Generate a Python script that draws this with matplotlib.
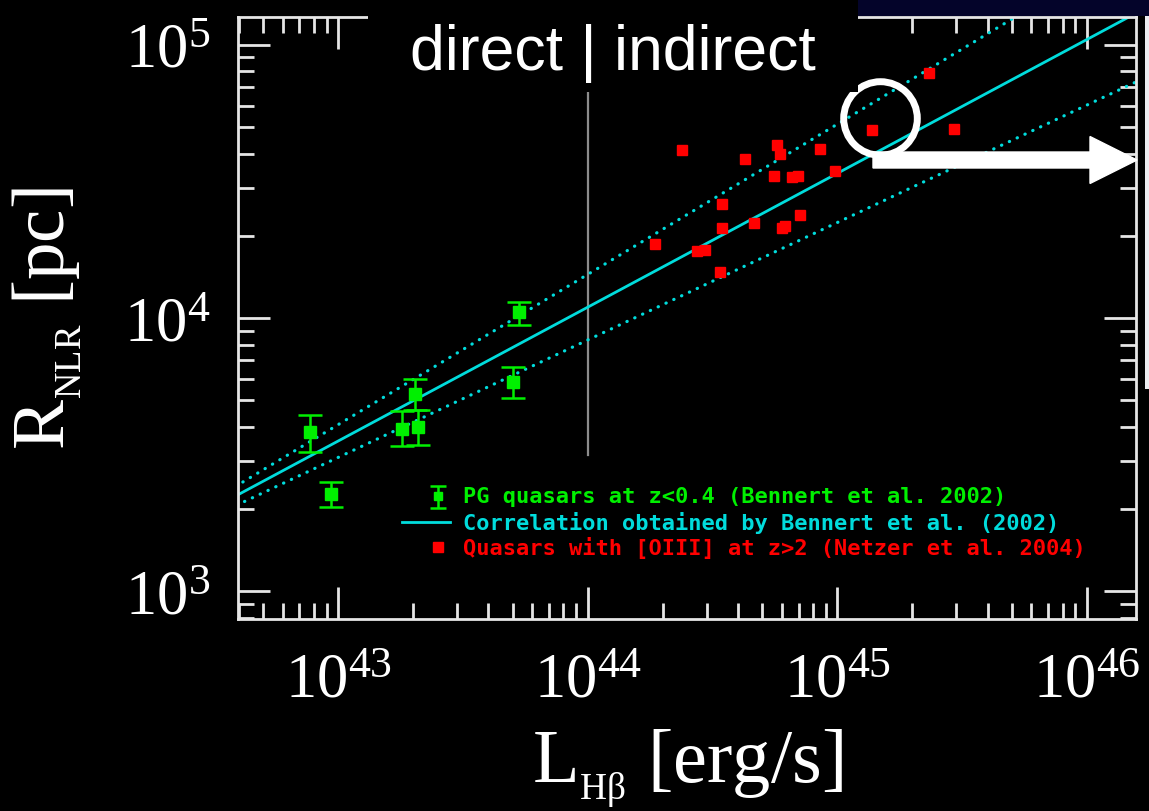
import numpy as np
import matplotlib
matplotlib.use("Agg")
import matplotlib.pyplot as plt
from matplotlib.patches import Rectangle, FancyArrow
from matplotlib.ticker import LogLocator, FuncFormatter, NullFormatter

plt.rcParams["font.family"] = "serif"
plt.rcParams["font.serif"] = ["Liberation Serif", "DejaVu Serif"]
plt.rcParams["mathtext.fontset"] = "custom"
plt.rcParams["mathtext.rm"] = "Liberation Serif"
plt.rcParams["mathtext.it"] = "Liberation Serif:italic"
plt.rcParams["mathtext.default"] = "regular"

# PG quasars at z<0.4 (Bennert et al. 2002): log L_Hb [erg/s], log R_NLR [pc], errors in dex
pg_logL = [42.889, 42.973, 43.257, 43.320, 43.308, 43.699, 43.723]
pg_logR = [3.582, 3.358, 3.596, 3.603, 3.724, 3.768, 4.023]
pg_err_lo = [0.073, 0.048, 0.065, 0.068, 0.060, 0.062, 0.049]
pg_err_hi = [0.063, 0.043, 0.065, 0.061, 0.053, 0.054, 0.037]

# [OIII] quasars at z>2 (Netzer et al. 2004)
hz_logL = [44.379, 44.269, 44.630, 44.760, 44.770, 44.748, 44.820, 44.841, 44.929, 44.990, 45.139,
           44.539, 44.539, 44.667, 44.850, 44.790, 44.780, 44.439, 44.470, 44.530, 45.366, 45.468]
hz_logR = [4.616, 4.271, 4.584, 4.634, 4.601, 4.521, 4.517, 4.521, 4.621, 4.538, 4.688,
           4.418, 4.329, 4.350, 4.378, 4.338, 4.329, 4.246, 4.250, 4.169, 4.896, 4.694]

# R ~ L^slope correlation, pivoting at (pivot_logL, pivot_logR), slope +/- err
fit_slope = 0.49
fit_slope_err = 0.06
pivot_logL = 42.0
pivot_logR = 3.06

divider_L = 1e44          # direct | indirect boundary
divider_Rmin = 10**3.50

legend_labels = ["PG quasars at z<0.4 (Bennert et al. 2002)",
                 "Correlation obtained by Bennert et al. (2002)",
                 "Quasars with [OIII] at z>2 (Netzer et al. 2004)"]

GREEN, CYAN, RED, FG = "#00f000", "#00dcdc", "#ff0000", "#e6e6e6"

fig = plt.figure(figsize=(11.49, 8.12), dpi=100, facecolor="black")
ax = fig.add_axes([238 / 1149, 1 - 620 / 812, 898 / 1149, 602 / 812])
ax.set_facecolor("black")
ax.set_xscale("log"); ax.set_yscale("log")
ax.set_xlim(10**42.599, 10**46.197)
ax.set_ylim(10**2.8986, 10**5.1025)

# fit + slope error lines
lx = np.linspace(42.5, 46.3, 50)
dots = (0, (0.1, 2.6))
for s, ls in [(fit_slope, "-"), (fit_slope + fit_slope_err, dots), (fit_slope - fit_slope_err, dots)]:
    ax.plot(10**lx, 10**(pivot_logR + s * (lx - pivot_logL)), color=CYAN, lw=2.0 if ls == "-" else 2.3,
            ls=ls, dash_capstyle="round", zorder=2)

ax.plot([divider_L, divider_L], [divider_Rmin, ax.get_ylim()[1]], color="#8c8c8c", lw=1.6, zorder=1)

L = 10**np.array(pg_logL); R = 10**np.array(pg_logR)
yerr = [R - 10**(np.array(pg_logR) - pg_err_lo), 10**(np.array(pg_logR) + pg_err_hi) - R]
ax.errorbar(L, R, yerr=yerr, fmt="s", color=GREEN, ms=8.5, elinewidth=1.8, capsize=8.3, capthick=1.8, zorder=3)
ax.plot(10**np.array(hz_logL), 10**np.array(hz_logR), "s", color=RED, ms=7.8, ls="none", zorder=3)

# axes styling
for sp in ax.spines.values():
    sp.set_color(FG); sp.set_linewidth(2)
ax.xaxis.set_major_locator(LogLocator(base=10, numticks=10))
ax.yaxis.set_major_locator(LogLocator(base=10, numticks=10))
ax.xaxis.set_minor_locator(LogLocator(base=10, subs=np.arange(2, 10), numticks=20))
ax.yaxis.set_minor_locator(LogLocator(base=10, subs=np.arange(2, 10), numticks=20))
fmt = FuncFormatter(lambda v, p: r"$\mathregular{10^{%d}}$" % round(np.log10(v)))
ax.xaxis.set_major_formatter(fmt); ax.yaxis.set_major_formatter(fmt)
ax.xaxis.set_minor_formatter(NullFormatter()); ax.yaxis.set_minor_formatter(NullFormatter())
ax.tick_params(which="both", direction="in", top=True, right=True, color=FG, width=2, labelcolor="white")
ax.tick_params(which="major", length=23, labelsize=45)
ax.tick_params(which="minor", length=11.5)
ax.tick_params(axis="x", which="major", pad=24)
ax.tick_params(axis="y", which="major", pad=20)

ax.set_xlabel(r"$\mathregular{L_{{}_{H\beta}}\ [erg/s]}$", fontsize=55, color="white")
ax.set_ylabel(r"$\mathregular{R_{{}_{NLR}}\ [pc]}$", fontsize=54, color="white")
ax.xaxis.set_label_coords(0.5, -0.18)
ax.xaxis.label.set_va("top")
ax.yaxis.set_label_coords(-0.172, 0.5)

# legend drawn by hand
mono = dict(family="DejaVu Sans Mono", weight="bold", fontsize=15.8, va="center", ha="left", transform=ax.transAxes)
rows = [0.2043, 0.1611, 0.1196]
ax.errorbar([0.2227], [0.2043], yerr=[[0.0204], [0.0171]], fmt="s", color=GREEN, ms=6, elinewidth=1.8,
            capsize=6, capthick=1.8, transform=ax.transAxes, clip_on=False)
ax.plot([0.1823, 0.2361], [rows[1]] * 2, color=CYAN, lw=2.0, transform=ax.transAxes)
ax.plot([0.2227], [rows[2]], "s", color=RED, ms=6.5, transform=ax.transAxes)
for lab, y, c in zip(legend_labels, rows, [GREEN, CYAN, RED]):
    ax.text(0.2506, y, lab, color=c, **mono)

# slide overlays: title box, highlight ring and arrow
fig.add_artist(Rectangle((368 / 1149, 1 - 93 / 812), 490 / 1149, 93 / 812, transform=fig.transFigure,
                         facecolor="black", edgecolor="none", zorder=5))
fig.add_artist(Rectangle((858 / 1149, 1 - 17 / 812), 291 / 1149, 17 / 812, transform=fig.transFigure,
                         facecolor="#04042a", edgecolor="none", zorder=5))
fig.add_artist(Rectangle((1145 / 1149, 1 - 390 / 812), 4 / 1149, 373 / 812, transform=fig.transFigure,
                         facecolor="#ececf0", edgecolor="none", zorder=5))
fig.text(613 / 1149, 1 - 70 / 812, "direct | indirect", family="Liberation Sans", fontsize=45,
         color="white", ha="center", va="baseline", zorder=6)
ax.plot([0.7149], [0.8322], "o", ms=53, mfc="none", mec="white", mew=5, transform=ax.transAxes,
        clip_on=False, zorder=6)
fig.add_artist(FancyArrow(873 / 1149, 1 - 161 / 812, 264 / 1149, 0, width=16 / 812, head_width=47 / 812,
                          head_length=47 / 1149, length_includes_head=True, transform=fig.transFigure,
                          color="white", zorder=6))

fig.savefig("out.png", dpi=100, facecolor="black")
